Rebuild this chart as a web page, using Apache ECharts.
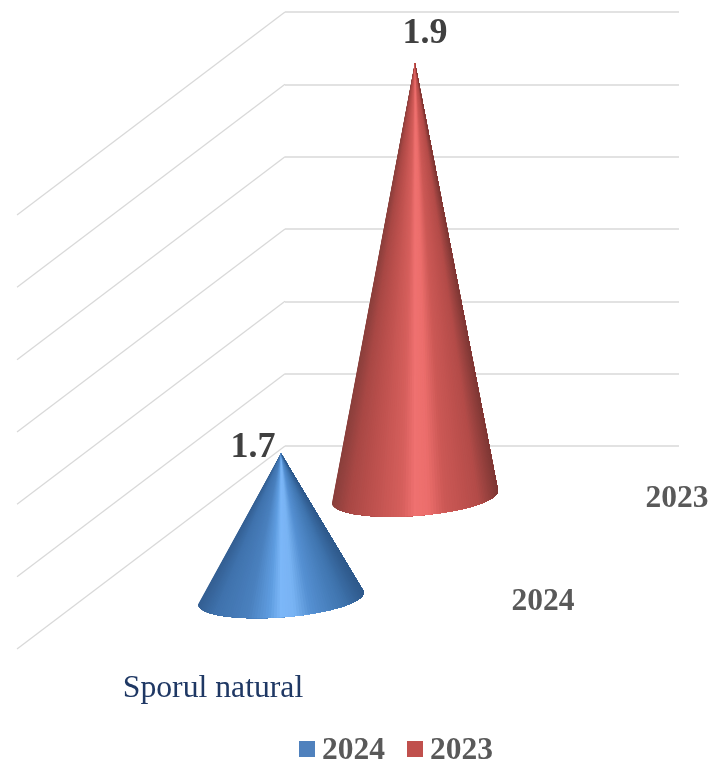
<!DOCTYPE html>
<html>
<head>
<meta charset="utf-8">
<style>html,body{margin:0;padding:0;background:#fff}#c{width:712px;height:765px}</style>
<script src="https://cdn.jsdelivr.net/npm/echarts@6/dist/echarts.min.js"></script>
</head>
<body>
<div id="c"></div>
<script>
const categories = ['Sporul natural'];
const seriesNames = ['2024', '2023'];
const values2024 = [1.7];
const values2023 = [1.9];
const gridTicks = [1.6, 1.65, 1.7, 1.75, 1.8, 1.85, 1.9];

const AXIS_MIN = 1.6;
const FONT = '"Liberation Serif","Times New Roman",serif';
const DEPTH = [-268, 203];          // screen vector of the floor's depth edge
const BASE_U = [83, -6.3];          // base ellipse half axes
const BASE_V = [1.5, 19];

function shift(p, t) { return [p[0] + DEPTH[0] * t, p[1] + DEPTH[1] * t]; }

function shade(stops, x) {
  for (let i = 1; i < stops.length; i++) {
    if (x <= stops[i][0]) {
      const k = (x - stops[i - 1][0]) / (stops[i][0] - stops[i - 1][0]);
      return echarts.color.lerp(Math.max(0, Math.min(1, k)), [stops[i - 1][1], stops[i][1]]);
    }
  }
  return stops[stops.length - 1][1];
}

function coneItem(depth, stops, labelDx, labelDy) {
  return function (params, api) {
    const cat = api.value(0), val = api.value(1);
    const apex = shift(api.coord([cat, val]), depth);
    const c = shift(api.coord([cat, AXIS_MIN]), depth);
    const rim = (d) => {
      const a = d * Math.PI / 180;
      return [
        c[0] + Math.cos(a) * BASE_U[0] + Math.sin(a) * BASE_V[0],
        c[1] + Math.cos(a) * BASE_U[1] + Math.sin(a) * BASE_V[1]
      ];
    };
    const children = [];
    const STEP = 2;
    // painted left to right, each slice covering everything to its right,
    // so the only soft edge of a slice falls on its neighbour's colour
    for (let d = 180; d > 0; d -= STEP) {
      const pts = [apex];
      for (let e = d; e >= 0; e -= STEP) pts.push(rim(e));
      const pm = rim(d - STEP / 2);
      const x = (pm[0] - (c[0] - BASE_U[0])) / (2 * BASE_U[0]);
      children.push({
        type: 'polygon',
        shape: { points: pts },
        style: { fill: shade(stops, x) }
      });
    }
    children.push({
      type: 'text',
      style: {
        text: val.toFixed(1),
        x: apex[0] + labelDx,
        y: apex[1] + labelDy,
        align: 'center',
        verticalAlign: 'middle',
        font: 'bold 36px ' + FONT,
        fill: '#404040'
      }
    });
    return { type: 'group', children: children };
  };
}

const blueStops = [
  [0, '#345f93'], [0.1, '#3f72ac'], [0.3, '#4a80be'], [0.43, '#5f9de0'], [0.5, '#7cb7f8'],
  [0.58, '#79b3f3'], [0.68, '#5590d2'], [0.88, '#3f74ae'], [1, '#2f5a8c']
];
const redStops = [
  [0, '#8a3f3c'], [0.1, '#a94845'], [0.25, '#bf524f'], [0.42, '#d65f5c'], [0.5, '#ef7170'],
  [0.58, '#ec6e6c'], [0.68, '#cc5855'], [0.88, '#b44c49'], [1, '#7f3835']
];

const frameSeries = {
  type: 'custom',
  name: 'frame',
  silent: true,
  clip: false,
  coordinateSystem: 'cartesian2d',
  data: gridTicks.map(v => [0, v]),
  renderItem: function (params, api) {
    const p = api.coord([api.value(0), api.value(1)]);
    const half = api.size([1, 0])[0] / 2;
    const back = [p[0] - half, p[1]];
    const front = shift(back, 1);
    return {
      type: 'line',
      shape: { x1: back[0], y1: back[1], x2: front[0], y2: front[1] },
      style: { stroke: '#d9d9d9', lineWidth: 1.3 }
    };
  },
  z: 1
};

const labelSeries = {
  type: 'custom',
  name: 'labels',
  silent: true,
  clip: false,
  coordinateSystem: 'cartesian2d',
  data: [[0, AXIS_MIN]],
  renderItem: function (params, api) {
    const p = api.coord([api.value(0), api.value(1)]);
    const half = api.size([1, 0])[0] / 2;
    const right = [p[0] + half, p[1]];
    const a = shift(right, 0.25), b = shift(right, 0.75);
    const f = shift(p, 1);
    const depthLabel = (q, t, dy) => ({
      type: 'text',
      style: {
        text: t, x: q[0] + 65, y: q[1] + dy, align: 'center', verticalAlign: 'middle',
        font: 'bold 31.5px ' + FONT, fill: '#595959'
      }
    });
    return {
      type: 'group',
      children: [
        depthLabel(a, seriesNames[1], 2),
        depthLabel(b, seriesNames[0], 4),
        {
          type: 'text',
          style: {
            text: categories[0], x: f[0] - 1, y: f[1] + 40, align: 'center', verticalAlign: 'middle',
            font: '31.7px ' + FONT, fill: '#1f3864'
          }
        }
      ]
    };
  },
  z: 2
};

const chart = echarts.init(document.getElementById('c'), null, { renderer: 'canvas' });
chart.setOption({
  animation: false,
  backgroundColor: '#fff',
  grid: { left: 285, right: 33, top: 12, bottom: 319, containLabel: false },
  legend: {
    data: seriesNames,
    left: 294,
    top: 730,
    itemWidth: 16,
    itemHeight: 16,
    itemGap: 22,
    icon: 'rect',
    formatter: function (name) { return '{a|' + name + '}'; },
    textStyle: {
      color: '#595959',
      rich: {
        a: { fontFamily: FONT, fontWeight: 'bold', fontSize: 31.5, color: '#595959', padding: [4, 0, 0, 2] }
      }
    }
  },
  xAxis: {
    type: 'category',
    data: categories,
    axisLine: { show: false },
    axisTick: { show: false },
    axisLabel: { show: false },
    splitLine: { show: false }
  },
  yAxis: {
    type: 'value',
    min: AXIS_MIN,
    max: 1.9,
    interval: 0.05,
    axisLine: { show: false },
    axisTick: { show: false },
    axisLabel: { show: false },
    splitLine: { show: true, lineStyle: { color: '#d9d9d9', width: 1.6 } }
  },
  series: [
    frameSeries,
    labelSeries,
    {
      type: 'custom',
      name: seriesNames[1],
      clip: false,
      coordinateSystem: 'cartesian2d',
      itemStyle: { color: '#c0504d' },
      data: values2023.map((v, i) => [i, v]),
      renderItem: coneItem(0.25, redStops, 10, -29),
      z: 3
    },
    {
      type: 'custom',
      name: seriesNames[0],
      clip: false,
      coordinateSystem: 'cartesian2d',
      itemStyle: { color: '#4f81bd' },
      data: values2024.map((v, i) => [i, v]),
      renderItem: coneItem(0.75, blueStops, -28, -6),
      z: 4
    }
  ]
});
</script>
</body>
</html>
